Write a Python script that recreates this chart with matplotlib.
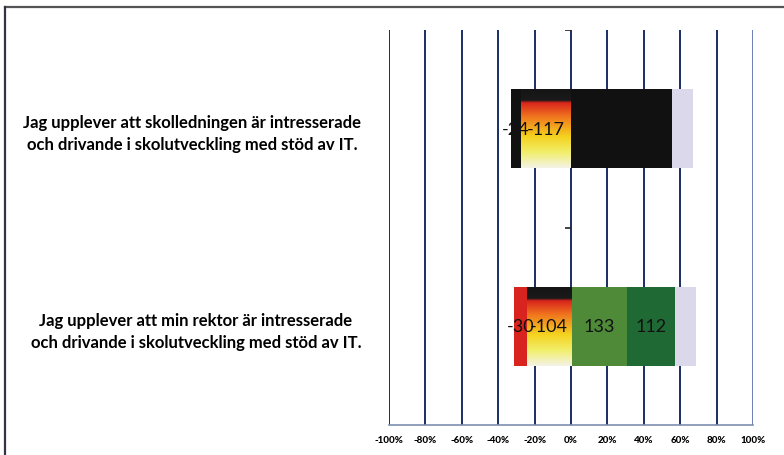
import numpy as np
import matplotlib
matplotlib.use("Agg")
import matplotlib.pyplot as plt
from matplotlib.colors import LinearSegmentedColormap
from matplotlib.lines import Line2D

# ---- data ----
categories = [
    "Jag upplever att skolledningen är intresserade\noch drivande i skolutveckling med stöd av IT.",
    "Jag upplever att min rektor är intresserade\noch drivande i skolutveckling med stöd av IT.",
]
strongly_disagree = [24, 30]
disagree = [117, 104]
agree = [122, 133]
strongly_agree = [115, 112]
dont_know = [48, 50]
xticks = [-100, -80, -60, -40, -20, 0, 20, 40, 60, 80, 100]
xticklabels = ["-100%", "-80%", "-60%", "-40%", "-20%", "0%", "20%", "40%", "60%", "80%", "100%"]

# colours as they appear in the scanned reference
sd_colors = ["#111111", "#d8231f"]
agree_colors = ["#111111", "#4e8a38"]
sa_colors = ["#111111", "#1f6a34"]
dk_color = "#dbd8ec"
grid_color = "#1b2c66"

plt.rcParams["font.family"] = ["Lato", "DejaVu Sans"]

fig = plt.figure(figsize=(7.84, 4.56), dpi=100)
W, H = 784, 456
ax = fig.add_axes([389 / W, 1 - 426 / H, (753 - 389) / W, (426 - 31) / H])

sd = np.array(strongly_disagree, float)
d = np.array(disagree, float)
a = np.array(agree, float)
sa = np.array(strongly_agree, float)
dk = np.array(dont_know, float)
tot = sd + d + a + sa + dk
p_sd, p_d, p_a, p_sa, p_dk = (v / tot * 100 for v in (sd, d, a, sa, dk))

y = np.arange(len(categories))
h = 0.4

left_sd = -(p_sd + p_d)
b_sd = ax.barh(y, p_sd, left=left_sd, height=h, color=sd_colors, zorder=3)
b_d = ax.barh(y, p_d, left=-p_d, height=h, color="none", zorder=3)
b_a = ax.barh(y, p_a, left=0, height=h, color=agree_colors, zorder=3)
b_sa = ax.barh(y, p_sa, left=p_a, height=h, color=sa_colors, zorder=3)
b_dk = ax.barh(y, p_dk, left=p_a + p_sa, height=h, color=dk_color, zorder=3)

# gradient fill for "disagree" segments (red -> yellow -> pale)
cmap = LinearSegmentedColormap.from_list(
    "grad",
    [(0.0, "#151515"), (0.14, "#1a1a1a"), (0.17, "#d9241c"), (0.35, "#f0761e"),
     (0.6, "#f5d21e"), (0.8, "#f1ee6a"), (1.0, "#f4f3e6")])
grad = np.linspace(0, 1, 200).reshape(-1, 1)
for p in b_d.patches:
    x0, y0, w, hh = p.get_x(), p.get_y(), p.get_width(), p.get_height()
    im = ax.imshow(grad, extent=[x0, x0 + w, y0 + hh, y0], origin="upper",
                   aspect="auto", cmap=cmap, zorder=3.1)
    im.set_clip_path(p)

# value labels (black text; invisible where the scan turned the bar black)
for i in range(len(categories)):
    segs = [(left_sd[i] + p_sd[i] / 2, f"-{int(sd[i])}", sd_colors[i]),
            (-p_d[i] / 2, f"-{int(d[i])}", None),
            (p_a[i] / 2, f"{int(a[i])}", agree_colors[i]),
            (p_a[i] + p_sa[i] / 2, f"{int(sa[i])}", sa_colors[i])]
    for xc, lab, bg in segs:
        col = "#111111"
        ax.text(xc, y[i], lab, ha="center", va="center", fontsize=13,
                color=col, zorder=5)

ax.set_xlim(-100, 100)
ax.set_ylim(1.5, -0.5)

# grid lines
for xv in xticks:
    ax.axvline(xv, color=grid_color if xv < 100 else "#6a7fb8", lw=1.4, zorder=1)
# zero axis with category-boundary ticks
ax.plot([0, 0], [-0.5, 0.5], ls="none", marker=0, markersize=4, color="#222222",
        mew=1.2, zorder=4)

for s in ["top", "right", "left"]:
    ax.spines[s].set_visible(False)
ax.spines["bottom"].set_color("#7f8fb0")
ax.spines["bottom"].set_linewidth(1.2)

ax.set_xticks(xticks, xticklabels)
ax.tick_params(axis="x", length=0, pad=7, labelsize=7)
for t in ax.get_xticklabels():
    t.set_fontweight("black")
ax.set_yticks(y, categories)
ax.tick_params(axis="y", length=0, pad=20, labelsize=12)
for t in ax.get_yticklabels():
    t.set_fontweight("bold")
    t.set_multialignment("center")
    t.set_linespacing(1.45)

# outer frame of the scanned chart
fig.add_artist(Line2D([5 / W, 1], [1 - 8 / H, 1 - 8 / H], color="#555555", lw=1.6))
fig.add_artist(Line2D([5 / W, 5 / W], [0, 1 - 8 / H], color="#333344", lw=1.6))

fig.savefig("out.png", dpi=100)
